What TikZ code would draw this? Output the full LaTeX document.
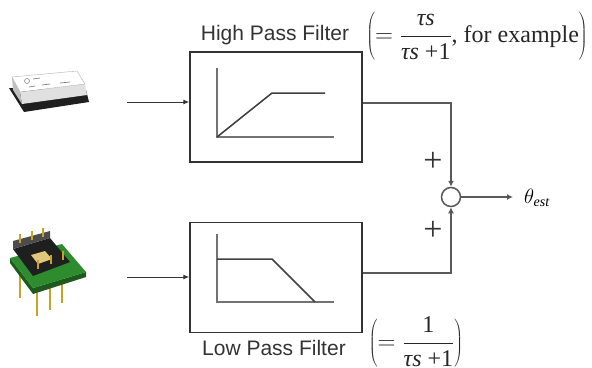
\documentclass[tikz,border=0pt]{standalone}
\usepackage{fontspec}
\setmainfont{Liberation Serif}
\newfontfamily\labelfont{Liberation Sans}
\usetikzlibrary{arrows.meta}
\definecolor{gold}{HTML}{C9A227}
\definecolor{pcb}{HTML}{2E8B2E}
\definecolor{pcbdark}{HTML}{1E5A1E}
\tikzset{
  fbox/.style={draw=black!80, line width=1.5pt, minimum width=172pt, minimum height=110pt, inner sep=0pt},
  axisline/.style={draw=black!55, line width=1.8pt},
  respline/.style={draw=black!75, line width=1.5pt},
  conn/.style={draw=black!65, line width=1.4pt},
  inarrow/.style={draw=black!80, line width=1pt, -{Latex[length=6pt,width=5pt]}},
  sumarrow/.style={conn, -{Latex[length=6pt,width=6pt]}},
  sumnode/.style={circle, draw=black!65, line width=1.5pt, minimum size=19pt, inner sep=0pt, fill=white},
  lbl/.style={font=\labelfont\fontsize{21}{24}\selectfont, text=black!80, inner sep=0pt},
  eqn/.style={font=\fontsize{24}{29}\selectfont, text=black!85, inner sep=0pt},
  plussign/.style={font=\fontsize{34}{36}\selectfont, text=black!80, inner sep=0pt},
}
\newcommand{\ts}{\mbox{\itshape τs}}
\begin{document}
\begin{tikzpicture}[x=1pt,y=-1pt]
\path[use as bounding box] (0,0) rectangle (592,367);

% ---- sensor pictures ----
% crystal chip
\fill[black!88] (9,88) -- (24,112) -- (89,102) -- (86,90) -- cycle;
\fill[black!12] (20,92) -- (85,84) -- (87,95) -- (22,104) -- cycle;
\fill[black!25] (12,77) -- (20,92) -- (22,104) -- (13,90) -- cycle;
\fill[white, draw=black!30, line width=0.4pt] (12,77) -- (77,71) -- (85,84) -- (20,92) -- cycle;
\draw[black!45, line width=0.6pt] (27,81) circle (2.5pt);
\draw[black!50, line width=0.7pt] (33,79) -- (40,78) (29,87) -- (35,86) (42,85) -- (50,84) (60,83) -- (70,82);
% PCB module
\foreach \x/\ya/\yb in {20/272/298, 37/284/316, 50/280/310, 62/276/303}
  \draw[gold, line width=2.4pt] (\x,\ya) -- (\x,\yb);
\fill[pcbdark] (10,258) -- (33,288) -- (86,272) -- (86,277) -- (33,294) -- (10,263) -- cycle;
\fill[pcb] (10,258) -- (62,244) -- (86,272) -- (33,288) -- cycle;
\fill[black!88] (13,249) -- (50,238) -- (70,262) -- (33,276) -- cycle;
\fill[black!70] (13,241) -- (50,231) -- (50,238) -- (13,249) -- cycle;
\fill[gold!60!white] (31,255) -- (45,251) -- (52,259) -- (38,264) -- cycle;
\foreach \x/\y in {20/234, 32/231, 43/228, 38/260, 51/255, 63/251}
  \draw[gold, line width=2.4pt] (\x,\y) -- (\x,\y+9);

% ---- filter boxes ----
\node[fbox] (hpf) at (276,107) {};
\node[fbox] (lpf) at (276,277.5) {};

% HPF response
\draw[axisline] (217,68) -- (217,137) -- (334,137);
\draw[respline] (217,137) -- (272,93) -- (325,93);
% LPF response
\draw[axisline] (217,234) -- (217,302) -- (334,302);
\draw[respline] (217,259) -- (272,259) -- (315,302);

% ---- labels ----
\node[lbl] (hpflabel) at (275,35) {High Pass Filter};
\node[lbl] (lpflabel) at (274,348) {Low Pass Filter};
\node[eqn] (hpfeq) at (477,36) {$\left(=\displaystyle\frac{\ts}{\ts\mbox{ +1}}\mbox{, for example}\right)$};
\node[eqn] (lpfeq) at (416,342) {$\left(=\displaystyle\frac{\mbox{1}}{\ts\mbox{ +1}}\right)$};

% ---- inputs ----
\coordinate (in1) at (127,102);
\coordinate (in2) at (127,277);
\draw[inarrow] (in1) -- (hpf.west |- in1);
\draw[inarrow] (in2) -- (lpf.west |- in2);

% ---- summing junction ----
\node[sumnode] (sum) at (451,197) {};
\coordinate (outend) at (513,197);
\draw[sumarrow] (hpf.east |- 0,103) -- (sum.north |- 0,103) -- (sum.north);
\draw[sumarrow] (lpf.east |- 0,273) -- (sum.south |- 0,273) -- (sum.south);
\draw[sumarrow] (sum.east) -- (outend);
\node[plussign] (plus1) at (433,162) {+};
\node[plussign] (plus2) at (433,231) {+};
\node[font=\fontsize{20}{24}\selectfont, anchor=west, inner sep=0pt] (theta) at (524,198) {$\theta_{\mathit{est}}$};
\end{tikzpicture}
\end{document}
